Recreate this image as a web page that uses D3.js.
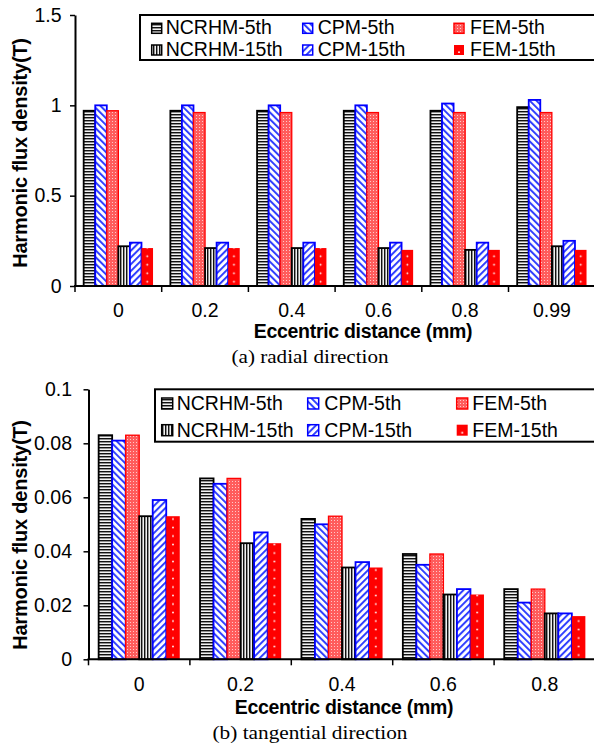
<!DOCTYPE html>
<html><head><meta charset="utf-8">
<script src="https://cdn.jsdelivr.net/npm/d3@7"></script>
<style>body{margin:0;background:#fff}svg{display:block}</style>
</head><body>
<svg id="c" width="594" height="746"></svg>
<script>
// ---------- DATA ----------
const series = ["NCRHM-5th","CPM-5th","FEM-5th","NCRHM-15th","CPM-15th","FEM-15th"];

const radialCats = ["0","0.2","0.4","0.6","0.8","0.99"];
const radialNCRHM5  = [0.97,0.97,0.97,0.97,0.97,0.99];
const radialCPM5    = [1.00,1.00,1.00,1.00,1.01,1.03];
const radialFEM5    = [0.97,0.96,0.96,0.96,0.96,0.96];
const radialNCRHM15 = [0.22,0.21,0.21,0.21,0.20,0.22];
const radialCPM15   = [0.24,0.24,0.24,0.24,0.24,0.25];
const radialFEM15   = [0.21,0.21,0.21,0.20,0.20,0.20];
const radialTicks = [0,0.5,1,1.5];

const tangCats = ["0","0.2","0.4","0.6","0.8"];
const tangNCRHM5  = [0.083,0.067,0.052,0.039,0.026];
const tangCPM5    = [0.081,0.065,0.050,0.035,0.021];
const tangFEM5    = [0.083,0.067,0.053,0.039,0.026];
const tangNCRHM15 = [0.053,0.043,0.034,0.024,0.017];
const tangCPM15   = [0.059,0.047,0.036,0.026,0.017];
const tangFEM15   = [0.053,0.043,0.034,0.024,0.016];
const tangTicks = [0,0.02,0.04,0.06,0.08,0.1];

const yTitle = "Harmonic flux density(T)";
const xTitle = "Eccentric distance (mm)";

// ---------- STYLE ----------
const FONT = "'Liberation Sans', Arial, Helvetica, sans-serif";
const SERIF = "'Liberation Serif', 'Times New Roman', serif";
const svg = d3.select("#c");
const defs = svg.append("defs");

function tile(id, w, h, extra){
  const p = defs.append("pattern").attr("id",id).attr("patternUnits","userSpaceOnUse")
    .attr("width",w).attr("height",h);
  if (extra) p.attr("patternTransform", extra);
  return p;
}
{ const p = tile("hstripe",6,6);
  p.append("rect").attr("width",6).attr("height",6).attr("fill","#fff");
  [0,3].forEach(o=>{
    p.append("rect").attr("y",o).attr("width",6).attr("height",1.4).attr("fill","#111");
    p.append("rect").attr("y",o+1.4).attr("width",6).attr("height",0.7).attr("fill","#888");
  }); }
{ const p = tile("vstripe",6,6);
  p.append("rect").attr("width",6).attr("height",6).attr("fill","#fff");
  [0,3].forEach(o=>{
    p.append("rect").attr("x",o).attr("width",1.4).attr("height",6).attr("fill","#111");
    p.append("rect").attr("x",o+1.4).attr("width",0.7).attr("height",6).attr("fill","#888");
  }); }
function diag(id, ang){
  const p = tile(id,9.6,20,`rotate(${ang})`);
  p.append("rect").attr("width",9.6).attr("height",20).attr("fill","#fff");
  p.append("rect").attr("width",2).attr("height",20).attr("fill","#3040ff");
  p.append("rect").attr("x",4.8).attr("width",2).attr("height",20).attr("fill","#3040ff");
}
diag("bslash",-45); diag("fslash",45);
{ const p = tile("checker",6,6);
  p.append("rect").attr("width",6).attr("height",6).attr("fill","#ff5c5c");
  for (let i=0;i<2;i++) for (let j=0;j<2;j++){
    p.append("rect").attr("x",i*3+1).attr("y",j*3+1).attr("width",1).attr("height",1).attr("fill","#ffc8c8");
  } }
{ const p = defs.append("pattern").attr("id","legdot").attr("patternUnits","objectBoundingBox")
    .attr("patternContentUnits","objectBoundingBox").attr("width",1).attr("height",1);
  p.append("rect").attr("width",1).attr("height",1).attr("fill","#ff0000");
  p.append("circle").attr("cx",0.5).attr("cy",0.72).attr("r",0.09).attr("fill","#fff"); }

const styles = {
  "NCRHM-5th":  {fill:"url(#hstripe)", stroke:"#000", sw:1.8},
  "CPM-5th":    {fill:"url(#bslash)",  stroke:"#0000ff", sw:1.8},
  "FEM-5th":    {fill:"url(#checker)", stroke:"#ff0000", sw:1.3},
  "NCRHM-15th": {fill:"url(#vstripe)", stroke:"#000", sw:1.8},
  "CPM-15th":   {fill:"url(#fslash)",  stroke:"#0000ff", sw:1.8},
  "FEM-15th":   {fill:null,            stroke:"none", sw:0}
};

function chart(o){
  const x = d3.scaleBand().domain(o.cats).range(o.xRange);
  const y = d3.scaleLinear().domain([0, d3.max(o.ticks)]).range(o.yRange);
  const inner = d3.scaleBand().domain(series).range([x.bandwidth()*0.1, x.bandwidth()*0.9]);

  // dotted fill for FEM-15th, aligned with each bar's centre
  const dp = defs.append("pattern").attr("id",o.id+"dots").attr("patternUnits","userSpaceOnUse")
    .attr("x",o.xRange[0]).attr("y",o.yRange[0]).attr("width",x.step()).attr("height",8.5);
  dp.append("rect").attr("width",x.step()).attr("height",8.5).attr("fill","#ff0000");
  dp.append("circle").attr("cx",inner("FEM-15th")+inner.bandwidth()/2).attr("cy",4.2)
    .attr("r",0.9).attr("fill","#fff");

  const g = svg.append("g");
  o.values.forEach((vals, si) => {
    const s = series[si], st = styles[s];
    g.selectAll(null).data(vals).join("rect")
      .attr("x",(d,i)=>x(o.cats[i])+inner(s))
      .attr("y",d=>y(d))
      .attr("width",inner.bandwidth())
      .attr("height",d=>y(0)-y(d))
      .attr("fill", st.fill || `url(#${o.id}dots)`)
      .attr("stroke", st.stroke).attr("stroke-width", st.sw);
  });

  // y axis
  const ya = svg.append("g").attr("transform",`translate(${o.xRange[0]},0)`)
    .call(d3.axisLeft(y).tickValues(o.ticks).tickFormat(d=>String(d))
      .tickSize(5).tickPadding(o.tickPad).tickSizeOuter(0));
  ya.select(".domain").attr("stroke","#000").attr("stroke-width",2);
  ya.selectAll(".tick line").attr("stroke","#000").attr("stroke-width",1.5);
  ya.selectAll("text").attr("font-family",FONT).attr("font-size",19.5).attr("fill","#000");

  // x axis line + boundary ticks
  const y0 = y(0);
  svg.append("line").attr("x1",o.xRange[0]-1).attr("x2",o.xRange[1]).attr("y1",y0).attr("y2",y0)
    .attr("stroke","#000").attr("stroke-width",2);
  const bounds = o.cats.map(c=>x(c)).concat([o.xRange[1]]);
  svg.append("g").selectAll("line").data(bounds).join("line")
    .attr("x1",d=>d).attr("x2",d=>d).attr("y1",y0).attr("y2",y0+6)
    .attr("stroke","#000").attr("stroke-width",1.5);
  const xa = svg.append("g").attr("transform",`translate(0,${y0})`)
    .call(d3.axisBottom(x).tickSize(0));
  xa.select(".domain").remove();
  xa.selectAll("text").attr("y",o.xLabY).attr("dy",0)
    .attr("font-family",FONT).attr("font-size",19.5).attr("fill","#000");

  // titles
  svg.append("text").attr("transform",`translate(27,${o.yTitleY}) rotate(-90)`)
    .attr("text-anchor","middle").attr("font-family",FONT).attr("font-weight","bold")
    .attr("font-size",20).attr("letter-spacing",-0.2).text(yTitle);
  svg.append("text").attr("x",o.xTitleX).attr("y",o.xTitleY).attr("text-anchor","middle")
    .attr("font-family",FONT).attr("font-weight","bold").attr("font-size",19.5)
    .attr("letter-spacing",-0.3).text(xTitle);
  svg.append("text").attr("x",310).attr("y",o.capY).attr("text-anchor","middle")
    .attr("font-family",SERIF).attr("font-size",18)
    .attr("textLength",o.capLen).attr("lengthAdjust","spacingAndGlyphs").text(o.caption);

  // legend
  const L = o.legend;
  svg.append("rect").attr("x",L.x).attr("y",L.y).attr("width",600-L.x).attr("height",L.h)
    .attr("fill","#fff").attr("stroke","#000").attr("stroke-width",2);
  series.forEach((s,i)=>{
    const c = i%3, r = Math.floor(i/3), st = styles[s];
    const base = L.rows[r];
    svg.append("rect").attr("x",L.sx[c]).attr("y",base-L.ss-1).attr("width",L.ss).attr("height",L.ss)
      .attr("fill", st.fill || "url(#legdot)")
      .attr("stroke", st.stroke).attr("stroke-width", st.sw? 1.5 : 0);
    svg.append("text").attr("x",L.tx[c]).attr("y",base).attr("font-family",FONT)
      .attr("font-size",19.5).attr("fill","#000").text(s);
  });
}

chart({
  id:"rad", cats:radialCats,
  values:[radialNCRHM5,radialCPM5,radialFEM5,radialNCRHM15,radialCPM15,radialFEM15],
  ticks:radialTicks, xRange:[75,595.2], yRange:[286,15], tickPad:8.5, xLabY:31,
  yTitleY:153, xTitleX:363, xTitleY:338, capY:363, capLen:157, caption:"(a) radial direction",
  legend:{x:140,y:15,h:45,sx:[151.7,302.7,454],tx:[165.7,317.7,470],rows:[34.3,56],ss:10}
});
chart({
  id:"tan", cats:tangCats,
  values:[tangNCRHM5,tangCPM5,tangFEM5,tangNCRHM15,tangCPM15,tangFEM15],
  ticks:tangTicks, xRange:[88.5,595.5], yRange:[659.3,389.3], tickPad:11.5, xLabY:31.5,
  yTitleY:535, xTitleX:344, xTitleY:714, capY:739, capLen:195, caption:"(b) tangential direction",
  legend:{x:155,y:389.3,h:52.4,sx:[161.7,307.7,456.7],tx:[176.7,324.3,472.3],rows:[410,436.7],ss:11}
});
</script>
</body></html>
